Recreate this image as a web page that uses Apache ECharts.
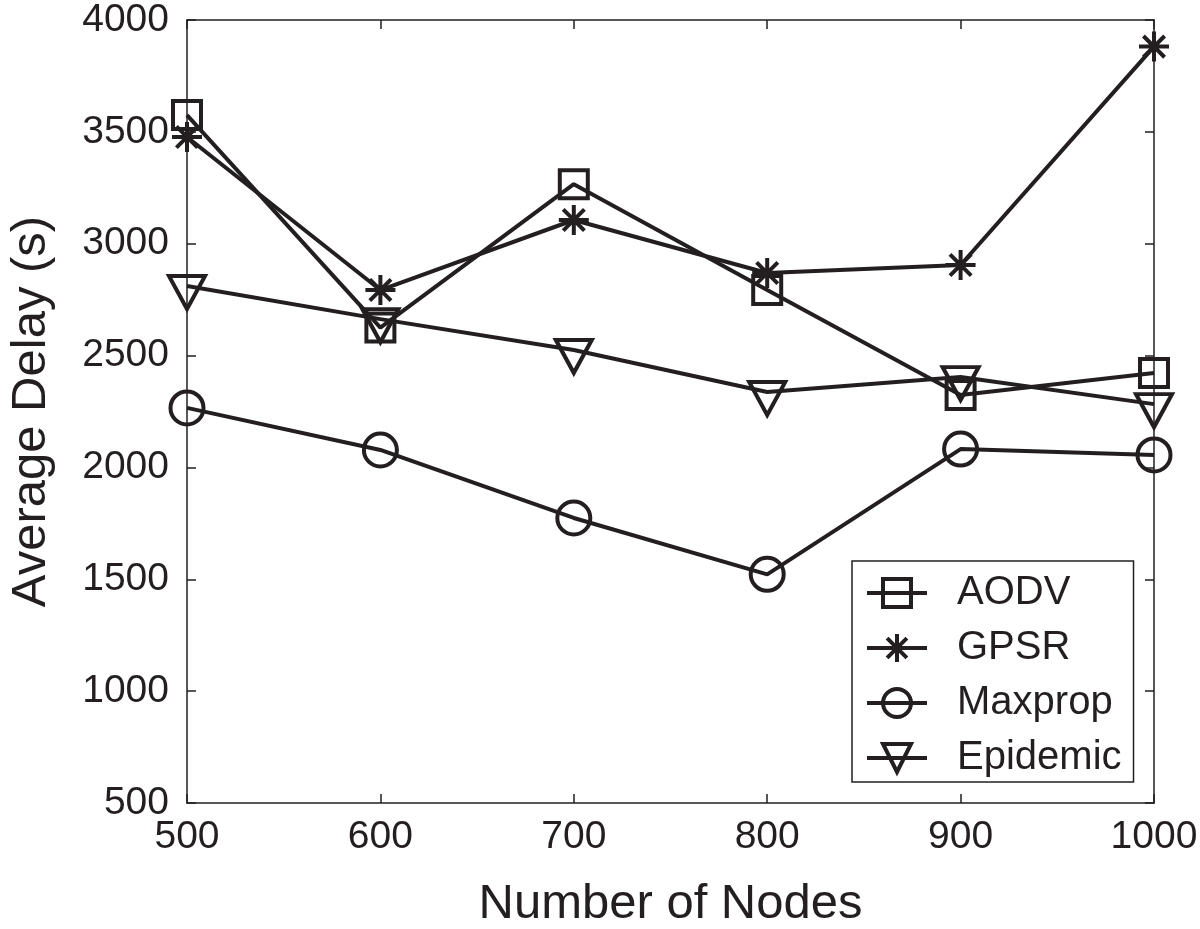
<!DOCTYPE html>
<html>
<head>
<meta charset="utf-8">
<script src="https://cdn.jsdelivr.net/npm/echarts@6/dist/echarts.min.js"></script>
<style>
  html, body { margin: 0; padding: 0; background: #fff; }
  #chart { width: 1200px; height: 929px; }
</style>
</head>
<body>
<div id="chart"></div>
<script>
const nodes = [500, 600, 700, 800, 900, 1000];
const aodv = [3575, 2625, 3266, 2793, 2324, 2422];
const gpsr = [3477, 2793, 3106, 2869, 2905, 3881];
const maxprop = [2266, 2078, 1774, 1522, 2082, 2056];
const epidemic = [2811, 2663, 2525, 2337, 2404, 2283];

const ink = '#231f20';
const font = 'Liberation Sans, Arial, Helvetica, sans-serif';

// asterisk = plus + cross, drawn only with strokes
const asterisk = 'path://M10,0 L10,20 M0,10 L20,10 M2.93,2.93 L17.07,17.07 M2.93,17.07 L17.07,2.93';
const triDown = 'path://M0,0 L20,0 L10,18 Z';

const pairs = (ys) => nodes.map((x, i) => [x, ys[i]]);

const makeSeries = (name, ys, symbol, size, offset) => ({
  name: name,
  type: 'line',
  data: pairs(ys),
  symbol: symbol,
  symbolSize: size,
  symbolOffset: offset || [0, 0],
  showAllSymbol: true,
  z: 3,
  lineStyle: { color: ink, width: 4 },
  itemStyle: { color: 'rgba(0,0,0,0)', borderColor: ink, borderWidth: 4 },
  emphasis: { disabled: true },
  animation: false
});

const dom = document.getElementById('chart');
const myChart = echarts.init(dom, null, { renderer: 'canvas' });

const option = {
  backgroundColor: '#fff',
  animation: false,
  textStyle: { fontFamily: font, color: ink },
  grid: { left: 187, right: 46, top: 20, bottom: 126, containLabel: false, outerBoundsMode: 'none' },
  legend: {
    orient: 'vertical',
    left: 852,
    top: 561,
    padding: [12, 12, 4, 13],
    borderColor: ink,
    borderWidth: 1.5,
    backgroundColor: '#fff',
    itemWidth: 60,
    itemHeight: 35,
    itemGap: 15,
    lineStyle: { width: 4, color: ink },
    itemStyle: { borderWidth: 4, borderColor: ink, color: 'rgba(0,0,0,0)' },
    textStyle: { fontSize: 40, color: ink, fontFamily: font, lineHeight: 40, padding: [0, 0, 0, 25] },
    data: ['AODV', 'GPSR', 'Maxprop', 'Epidemic']
  },
  xAxis: [
    {
      type: 'value',
      min: 500, max: 1000, interval: 100,
      name: 'Number of Nodes',
      nameLocation: 'middle',
      nameGap: 77,
      nameTextStyle: { fontSize: 49, color: ink, fontFamily: font },
      axisLine: { onZero: false, lineStyle: { color: ink, width: 1.5 } },
      axisTick: { inside: true, length: 9, lineStyle: { color: ink, width: 1.5 } },
      axisLabel: { fontSize: 39, color: ink, margin: 15, fontFamily: font, formatter: (v) => String(v) },
      splitLine: { show: false }
    },
    {
      type: 'value',
      position: 'top',
      min: 500, max: 1000, interval: 100,
      axisLine: { onZero: false, lineStyle: { color: ink, width: 1.5 } },
      axisTick: { inside: true, length: 9, lineStyle: { color: ink, width: 1.5 } },
      axisLabel: { show: false },
      splitLine: { show: false }
    }
  ],
  yAxis: [
    {
      type: 'value',
      min: 500, max: 4000, interval: 500,
      name: 'Average Delay (s)',
      nameLocation: 'middle',
      nameGap: 131,
      nameTextStyle: { fontSize: 49, color: ink, fontFamily: font },
      axisLine: { show: true, onZero: false, lineStyle: { color: ink, width: 1.5 } },
      axisTick: { show: true, inside: true, length: 9, lineStyle: { color: ink, width: 1.5 } },
      axisLabel: { fontSize: 39, color: ink, margin: 18, fontFamily: font, formatter: (v) => String(v) },
      splitLine: { show: false }
    },
    {
      type: 'value',
      position: 'right',
      min: 500, max: 4000, interval: 500,
      axisLine: { show: true, onZero: false, lineStyle: { color: ink, width: 1.5 } },
      axisTick: { show: true, inside: true, length: 9, lineStyle: { color: ink, width: 1.5 } },
      axisLabel: { show: false },
      splitLine: { show: false }
    }
  ],
  series: [
    makeSeries('AODV', aodv, 'rect', 28),
    makeSeries('GPSR', gpsr, asterisk, 30),
    makeSeries('Maxprop', maxprop, 'circle', 33),
    makeSeries('Epidemic', epidemic, triDown, [36, 33], [0, 6.5])
  ]
};

if (option && typeof option === 'object') {
  myChart.setOption(option);
}

window.addEventListener('resize', myChart.resize);
</script>
</body>
</html>
